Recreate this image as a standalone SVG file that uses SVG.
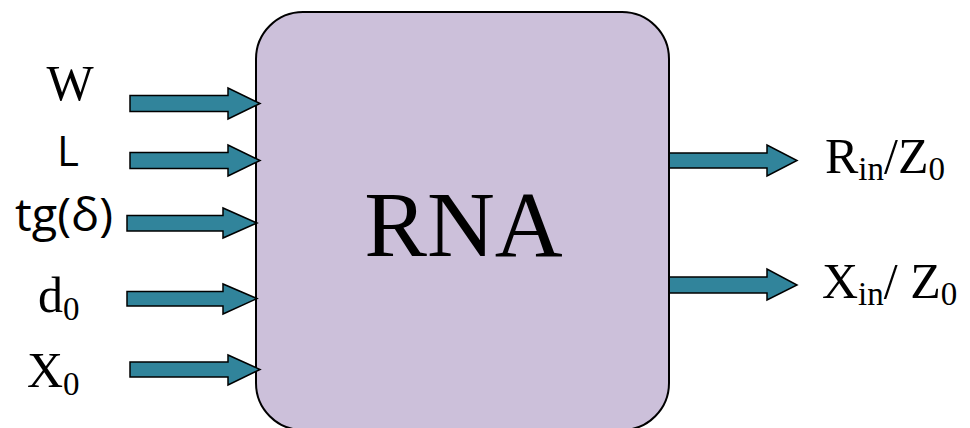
<svg xmlns="http://www.w3.org/2000/svg" width="970" height="428" viewBox="0 0 970 428">
  <style>
    .box { fill: #CCC0DA; stroke: #000; stroke-width: 2; }
    .arrow { fill: #31849B; stroke: #000; stroke-width: 1.5; stroke-linejoin: miter; }
    .serif { font-family: "Liberation Serif", "Times New Roman", serif; fill: #000; }
    .sans { font-family: "Open Sans", "Noto Sans", sans-serif; fill: #000; }
    .lbl { font-size: 50px; }
    .sub { font-size: 33px; }
  </style>
  <rect width="970" height="428" fill="#fff"/>

  <g id="rna">
    <rect class="box" x="256" y="12" width="413" height="418" rx="47" ry="47"/>
    <text class="serif" x="463.5" y="256" font-size="94" text-anchor="middle">RNA</text>
  </g>

  <g id="connectors">
    <!-- inputs -->
    <path class="arrow" d="M130,95.5 H228 V88 L260,103.5 L228,119 V111.5 H130 Z"/>
    <path class="arrow" d="M130,152.5 H228 V145 L260,160.5 L228,176 V168.5 H130 Z"/>
    <path class="arrow" d="M127,215.5 H223 V208 L257,223 L223,238 V231 H127 Z"/>
    <path class="arrow" d="M127,291.5 H223 V284 L257,298.5 L223,314 V306 H127 Z"/>
    <path class="arrow" d="M130,362 H228 V355 L260,369.5 L228,385 V377 H130 Z"/>
    <!-- outputs -->
    <path class="arrow" d="M670,153 H767 V145 L797,160.5 L767,176 V168 H670"/>
    <path class="arrow" d="M670,277 H767 V269 L797,285 L767,300 V293 H670"/>
  </g>

  <g id="in-w">
    <text class="serif lbl" x="70" y="100" text-anchor="middle">W</text>
  </g>
  <g id="in-l">
    <text class="sans" x="57" y="166" font-size="42">L</text>
  </g>
  <g id="in-tg">
    <text class="sans" x="15" y="231" font-size="45" textLength="98" lengthAdjust="spacingAndGlyphs">tg(δ)</text>
  </g>
  <g id="in-d0">
    <text class="serif lbl" x="38" y="312">d<tspan class="sub" dy="8">0</tspan></text>
  </g>
  <g id="in-x0">
    <text class="serif lbl" x="27" y="387">X<tspan class="sub" dy="8">0</tspan></text>
  </g>
  <g id="out-r">
    <text class="serif lbl" x="825" y="173">R<tspan class="sub" dy="7">in</tspan><tspan dy="-7">/Z</tspan><tspan class="sub" dy="7">0</tspan></text>
  </g>
  <g id="out-x">
    <text class="serif lbl" x="822" y="298">X<tspan class="sub" dy="7">in</tspan><tspan dy="-7">/ Z</tspan><tspan class="sub" dy="7">0</tspan></text>
  </g>
</svg>
